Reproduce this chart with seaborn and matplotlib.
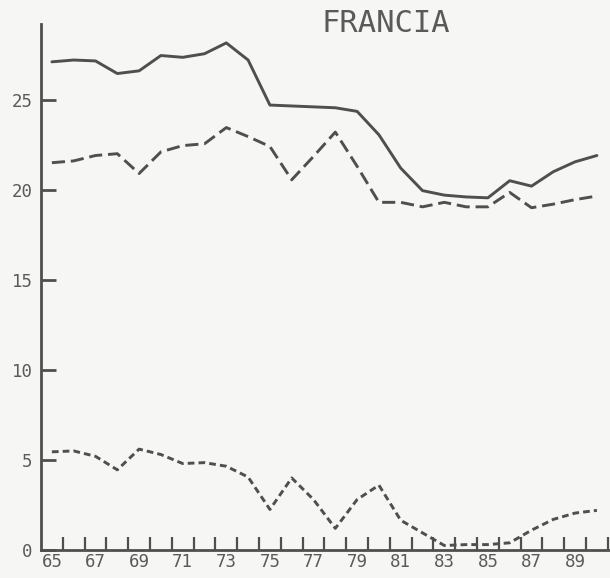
import pandas as pd
import matplotlib
matplotlib.use("Agg")
import matplotlib.pyplot as plt
import seaborn as sns

# values (France, 1965-1990)
years = list(range(65, 91))
serie_solida = [27.1, 27.2, 27.15, 26.45, 26.6, 27.45, 27.35, 27.55, 28.15, 27.2,
                24.7, 24.65, 24.6, 24.55, 24.35, 23.05, 21.2, 19.95, 19.7, 19.6,
                19.55, 20.5, 20.2, 21.0, 21.55, 21.9]
serie_larga = [21.5, 21.6, 21.9, 22.0, 20.9, 22.1, 22.45, 22.55, 23.45, 22.95,
               22.4, 20.55, 21.85, 23.2, 21.3, 19.3, 19.3, 19.05, 19.3, 19.05,
               19.05, 19.85, 19.0, 19.2, 19.45, 19.65]
serie_corta = [5.45, 5.5, 5.2, 4.45, 5.6, 5.3, 4.8, 4.85, 4.65, 4.05,
               2.25, 4.0, 2.8, 1.2, 2.8, 3.6, 1.65, 0.95, 0.25, 0.3,
               0.3, 0.4, 1.1, 1.7, 2.05, 2.2]

y_ticks = [0, 5, 10, 15, 20, 25]
x_labels = [str(y) for y in range(65, 90, 2)]

df = pd.DataFrame({
    "year": years * 3,
    "value": serie_solida + serie_larga + serie_corta,
    "serie": ["solida"] * 26 + ["larga"] * 26 + ["corta"] * 26,
})

sns.set_style("ticks")
plt.rcParams["font.family"] = ["DejaVu Sans Mono"]

ink = "#4f4f4f"
paper = "#f6f6f4"

fig = plt.figure(figsize=(6.1, 5.78), dpi=100, facecolor=paper)
ax = fig.add_axes([41 / 610, 28 / 578, 1 - 41 / 610, (550 - 24) / 578])
ax.set_facecolor(paper)

sns.lineplot(data=df, x="year", y="value", style="serie", ax=ax,
             dashes={"solida": "", "larga": (4.5, 2.0), "corta": (2.3, 1.4)},
             color=ink, linewidth=2.1, legend=False)

ax.set_xlim(64.5, 90.6)
ax.set_ylim(0, 29.2)

ax.set_xticks(list(range(65, 90, 2)))
ax.set_xticklabels(x_labels)
ax.set_xticks([y + 0.5 for y in range(65, 91)], minor=True)
ax.set_yticks(y_ticks)
ax.set_yticklabels([str(t) for t in y_ticks])

ax.tick_params(axis="x", which="major", length=0, pad=2, labelsize=12.5, labelcolor="#5a5a5a")
ax.tick_params(axis="x", which="minor", direction="in", length=9.5, width=1.6, color=ink)
ax.tick_params(axis="y", direction="in", length=10.5, width=2.0, color=ink, pad=6,
               labelsize=12.5, labelcolor="#5a5a5a")

for side in ["top", "right"]:
    ax.spines[side].set_visible(False)
for side in ["left", "bottom"]:
    ax.spines[side].set_color(ink)
    ax.spines[side].set_linewidth(2.0)

ax.set_xlabel("")
ax.set_ylabel("")

fig.text(386 / 610, 1 - 24 / 578, "FRANCIA", ha="center", va="center",
         fontsize=22, color="#5a5a5a")

plt.savefig("out.png", dpi=100, facecolor=paper)
